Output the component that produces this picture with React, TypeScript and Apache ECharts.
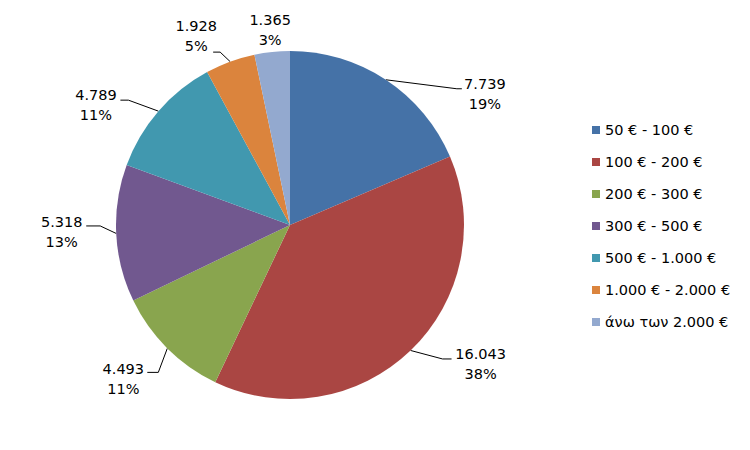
import React, { useEffect, useRef } from "react";
import * as echarts from "echarts";

const categories = [
  "50 € - 100 €",
  "100 € - 200 €",
  "200 € - 300 €",
  "300 € - 500 €",
  "500 € - 1.000 €",
  "1.000 € - 2.000 €",
  "άνω των 2.000 €",
];
const values = [7739, 16043, 4493, 5318, 4789, 1928, 1365];
const colors = ["#4572A7", "#AA4643", "#89A54E", "#71588F", "#4198AF", "#DB843D", "#93A9CF"];

// leader-line geometry relative to the slice edge point (layout only)
const labelOffsets = [
  { elbow: [71, 9], tail: 5, text: [23, 5], line: true },
  { elbow: [32, 8.5], tail: 9, text: [29, 5], line: true },
  { elbow: [-9, 24], tail: -11, text: [-24, 7], line: true },
  { elbow: [-16, -7.5], tail: -14, text: [-24.5, 6.5], line: true },
  { elbow: [-30, -11], tail: -8, text: [-24.5, 4.5], line: true },
  { elbow: [-10, -9.5], tail: -7, text: [-17, -16], line: true },
  { elbow: [0, 0], tail: 0, text: [-2, -22], line: false },
];

const FONT = "DejaVu Sans";

function fmtThousands(v: number): string {
  return String(v).replace(/\B(?=(\d{3})+(?!\d))/g, ".");
}

export default function App() {
  const ref = useRef<HTMLDivElement>(null);
  useEffect(() => {
    if (!ref.current) return;
    const chart = echarts.init(ref.current, undefined, { renderer: "svg" });
    const data = categories.map((name, i) => ({
      name,
      value: values[i],
      itemStyle: { color: colors[i] },
      labelLine: { show: labelOffsets[i].line },
    }));
    chart.setOption({
      animation: false,
      backgroundColor: "#ffffff",
      legend: {
        orient: "vertical",
        left: 587,
        top: 117,
        icon: "rect",
        itemWidth: 8,
        itemHeight: 8,
        itemGap: 16,
        textStyle: { fontFamily: FONT, fontSize: 14.5, lineHeight: 16, color: "#000" },
        data: categories,
      },
      series: [
        {
          type: "pie",
          center: [290, 225],
          radius: 174,
          startAngle: 90,
          clockwise: true,
          avoidLabelOverlap: false,
          percentPrecision: 0,
          itemStyle: { borderWidth: 0 },
          emphasis: { disabled: true },
          label: {
            show: true,
            position: "outer",
            fontFamily: FONT,
            fontSize: 14.5,
            lineHeight: 20,
            color: "#000",
            formatter: (p: any) => fmtThousands(p.value) + "\n" + p.percent + "%",
          },
          labelLine: { show: true, length: 10, length2: 10, lineStyle: { color: "#000", width: 1 } },
          labelLayout: (params: any) => {
            const i = params.dataIndex;
            const o = labelOffsets[i];
            const pts = params.labelLinePoints;
            let edge: number[];
            if (pts && pts.length) {
              edge = pts[0];
            } else {
              const total = values.reduce((a, b) => a + b, 0);
              let before = 0;
              for (let k = 0; k < i; k++) before += values[k];
              const mid = Math.PI / 2 - ((before + values[i] / 2) / total) * Math.PI * 2;
              edge = [290 + 174 * Math.cos(mid), 225 - 174 * Math.sin(mid)];
            }
            const elbow = [edge[0] + o.elbow[0], edge[1] + o.elbow[1]];
            const end = [elbow[0] + o.tail, elbow[1]];
            const res: any = {
              x: end[0] + o.text[0],
              y: end[1] + o.text[1],
              align: "center",
              verticalAlign: "middle",
            };
            if (o.line) res.labelLinePoints = [edge, elbow, end];
            return res;
          },
          data,
        },
      ],
    });
    return () => chart.dispose();
  }, []);
  return (
    <div
      ref={ref}
      style={{ position: "absolute", left: 0, top: 0, width: 750, height: 450 }}
    />
  );
}
